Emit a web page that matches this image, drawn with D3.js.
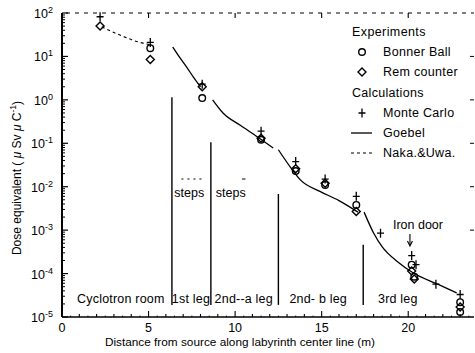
<!DOCTYPE html>
<html><head><meta charset="utf-8">
<script src="https://cdn.jsdelivr.net/npm/d3@7"></script>
<style>
body{margin:0;background:#fff;}
text{font-family:"Liberation Sans",Arial,Helvetica,sans-serif;fill:#000;}
</style></head>
<body><svg id="c" width="475" height="353"></svg>
<script>
// ---- data ----
const bonnerX = [5.1, 8.1, 11.5, 13.5, 15.2, 17.0, 20.2, 20.35, 23.0, 23.0];
const bonnerY = [15.5, 1.1, 0.12, 0.023, 0.011, 0.0038, 1.6e-4, 8.5e-5, 2.2e-5, 1.3e-5];
const remX = [2.2, 5.1, 8.1, 11.5, 13.5, 15.2, 17.0, 20.2, 20.35, 23.0];
const remY = [50, 8.5, 2.0, 0.13, 0.026, 0.012, 0.0027, 1.15e-4, 7.5e-5, 1.7e-5];
const mcX = [2.2, 5.1, 8.1, 11.5, 13.5, 15.2, 17.0, 18.4, 20.2, 20.45, 21.6, 23.0];
const mcY = [82, 21, 2.3, 0.19, 0.038, 0.015, 0.006, 8.5e-4, 2.6e-4, 1.6e-4, 5.7e-5, 3.3e-5];
const goebel1X = [6.4, 6.8, 7.2, 7.6, 8.0];
const goebel1Y = [16.5, 9.5, 5.7, 3.3, 2.0];
const goebel2X = [8.7, 9.3, 10.3, 11.3, 12.2];
const goebel2Y = [1.0, 0.5, 0.26, 0.14, 0.078];
const goebel3X = [12.5, 13.2, 13.8, 14.9, 16.0, 17.1];
const goebel3Y = [0.071, 0.028, 0.014, 0.0078, 0.0048, 0.0026];
const goebel4X = [17.45, 18.0, 18.5, 19.4, 20.3, 21.7, 22.8];
const goebel4Y = [0.0026, 8.6e-4, 4.1e-4, 1.85e-4, 1.03e-4, 5.7e-5, 3.6e-5];
const nakaX = [2.3, 3.35, 4.5, 5.1];
const nakaY = [48, 31, 21, 18.5];
const boundX = [6.35, 8.6, 12.5, 17.4];
const boundTop = [1.15, 0.105, 0.0068, 4.6e-4];
const boundBottom = 1.9e-5;
const regionLabels = ["Cyclotron room", "1st leg", "2nd--a leg", "2nd- b leg", "3rd leg"];
const regionX = [3.4, 7.45, 10.5, 14.8, 19.4];
const xTicks = [0, 5, 10, 15, 20];
const yExps = [2, 1, 0, -1, -2, -3, -4, -5];
const supLabels = ["2", "1", "0", "-1", "-2", "-3", "-4", "-5"];
const stepsX = [7.35, 9.75];
const ironDoorX = 20.1;

// ---- layout ----
const L = 62, R = 474, T = 13, B = 317;
const svg = d3.select("#c");
const x = d3.scaleLinear().domain([0, 23.8]).range([L, R]);
const y = d3.scaleLog().domain([1e-5, 1e2]).range([B, T]);

const g = svg.append("g");

// top frame (broken/dashed look of the scan)
g.append("line").attr("x1", L + 4).attr("x2", R).attr("y1", T).attr("y2", T)
  .attr("stroke", "#000").attr("stroke-width", 1.1).attr("stroke-dasharray", "4,5");

// y axis
g.append("line").attr("x1", L).attr("x2", L).attr("y1", T).attr("y2", B)
  .attr("stroke", "#000").attr("stroke-width", 2);
const minorY = [];
for (let e = -5; e < 2; e++) for (let m = 2; m <= 9; m++) minorY.push(m * Math.pow(10, e));
g.selectAll(".ym").data(minorY).enter().append("line")
  .attr("x1", L).attr("x2", L + 3).attr("y1", d => y(d)).attr("y2", d => y(d))
  .attr("stroke", "#000").attr("stroke-width", 1);
g.selectAll(".yM").data(yExps).enter().append("line")
  .attr("x1", L).attr("x2", L + 6).attr("y1", d => y(Math.pow(10, d))).attr("y2", d => y(Math.pow(10, d)))
  .attr("stroke", "#000").attr("stroke-width", 1.2);
// right side small ticks
g.selectAll(".yR").data(yExps.slice(1, 6)).enter().append("line")
  .attr("x1", R - 4).attr("x2", R).attr("y1", d => y(Math.pow(10, d))).attr("y2", d => y(Math.pow(10, d)))
  .attr("stroke", "#000").attr("stroke-width", 1);
// y tick labels
const yl = g.selectAll(".yl").data(yExps).enter().append("text")
  .attr("y", d => y(Math.pow(10, d)) + 5)
  .attr("x", (d, i) => supLabels[i].length > 1 ? 31 : 34)
  .style("font-size", "12.5px");
yl.append("tspan").text("10");
yl.append("tspan").attr("dy", -5).style("font-size", "9px").text((d, i) => supLabels[i]);

// x axis
g.append("line").attr("x1", L).attr("x2", R).attr("y1", B).attr("y2", B)
  .attr("stroke", "#000").attr("stroke-width", 1.5);
const minorX = d3.range(0, 24, 1);
g.selectAll(".xm").data(minorX).enter().append("line")
  .attr("x1", d => x(d)).attr("x2", d => x(d)).attr("y1", B).attr("y2", d => B - (d % 5 === 0 ? 6 : 3))
  .attr("stroke", "#000").attr("stroke-width", 1.1);
const halfX = d3.range(0.5, 23.6, 1);
g.selectAll(".xh").data(halfX).enter().append("line")
  .attr("x1", d => x(d)).attr("x2", d => x(d)).attr("y1", B).attr("y2", B - 1.5)
  .attr("stroke", "#000").attr("stroke-width", 0.8);
g.selectAll(".xtop").data(xTicks.slice(1)).enter().append("line")
  .attr("x1", d => x(d)).attr("x2", d => x(d)).attr("y1", T).attr("y2", T + 5)
  .attr("stroke", "#000").attr("stroke-width", 1.1);
g.selectAll(".xl").data(xTicks).enter().append("text")
  .attr("x", d => x(d)).attr("y", 332).attr("text-anchor", "middle")
  .style("font-size", "12.5px").text(d => d);

// axis titles
g.append("text").attr("x", 240).attr("y", 346).attr("text-anchor", "middle")
  .style("font-size", "11.8px").text("Distance from source along labyrinth center line (m)");
const yt = g.append("text").attr("transform", "translate(21,178) rotate(-90)")
  .attr("text-anchor", "middle").style("font-size", "12px");
yt.append("tspan").text("Dose equivalent ( ");
yt.append("tspan").style("font-style", "italic").text("μ");
yt.append("tspan").text(" Sv ");
yt.append("tspan").style("font-style", "italic").text("μ");
yt.append("tspan").text(" C");
yt.append("tspan").attr("dy", -5).style("font-size", "8.5px").text("-1");
yt.append("tspan").attr("dy", 5).text(")");

// boundaries
g.selectAll(".bd").data(boundX).enter().append("line")
  .attr("x1", d => x(d)).attr("x2", d => x(d))
  .attr("y1", (d, i) => y(boundTop[i])).attr("y2", y(boundBottom))
  .attr("stroke", "#000").attr("stroke-width", 1.4);

// region labels
g.selectAll(".rl").data(regionLabels).enter().append("text")
  .attr("x", (d, i) => x(regionX[i])).attr("y", 303).attr("text-anchor", "middle")
  .style("font-size", "12.5px").style("letter-spacing", "0.2px").text(d => d);

// steps
g.selectAll(".st").data(stepsX).enter().append("text")
  .attr("x", d => x(d)).attr("y", 197).attr("text-anchor", "middle")
  .style("font-size", "12.5px").text("steps");
g.append("line").attr("x1", x(6.9)).attr("x2", x(8.2)).attr("y1", 179).attr("y2", 179)
  .attr("stroke", "#000").attr("stroke-width", 1).attr("stroke-dasharray", "2,4");
g.append("line").attr("x1", x(10.4)).attr("x2", x(10.6)).attr("y1", 179).attr("y2", 179)
  .attr("stroke", "#000").attr("stroke-width", 1);

// iron door
g.append("text").attr("x", x(ironDoorX) + 8).attr("y", 229).attr("text-anchor", "middle")
  .style("font-size", "12.5px").text("Iron door");
g.append("line").attr("x1", x(ironDoorX)).attr("x2", x(ironDoorX)).attr("y1", 234).attr("y2", 245)
  .attr("stroke", "#000").attr("stroke-width", 1.1);
g.append("path").attr("d", `M${x(ironDoorX) - 2.5},${241} L${x(ironDoorX)},${246} L${x(ironDoorX) + 2.5},${241}`)
  .attr("fill", "none").attr("stroke", "#000").attr("stroke-width", 1.1);

// curves
const line = d3.line().x(d => x(d[0])).y(d => y(d[1])).curve(d3.curveMonotoneX);
[[goebel1X, goebel1Y], [goebel2X, goebel2Y], [goebel3X, goebel3Y], [goebel4X, goebel4Y]].forEach(([xs, ys]) => {
  g.append("path").datum(xs.map((v, i) => [v, ys[i]])).attr("d", line)
    .attr("fill", "none").attr("stroke", "#000").attr("stroke-width", 1.3);
});
g.append("path").datum(nakaX.map((v, i) => [v, nakaY[i]])).attr("d", line)
  .attr("fill", "none").attr("stroke", "#000").attr("stroke-width", 1.1).attr("stroke-dasharray", "3,3");

// markers
function circleM(sel, cx, cy) {
  sel.append("circle").attr("cx", cx).attr("cy", cy).attr("r", 3.3)
    .attr("fill", "none").attr("stroke", "#000").attr("stroke-width", 1.4);
}
function diamondM(sel, cx, cy) {
  const s = 4;
  sel.append("path").attr("d", `M${cx},${cy - s}L${cx + s},${cy}L${cx},${cy + s}L${cx - s},${cy}Z`)
    .attr("fill", "none").attr("stroke", "#000").attr("stroke-width", 1.4);
}
function plusM(sel, cx, cy) {
  const s = 4.5;
  sel.append("path").attr("d", `M${cx - s + 1},${cy}H${cx + s - 1}M${cx},${cy - s}V${cy + s}`)
    .attr("fill", "none").attr("stroke", "#000").attr("stroke-width", 1.3);
}
bonnerX.forEach((v, i) => circleM(g, x(v), y(bonnerY[i])));
remX.forEach((v, i) => diamondM(g, x(v), y(remY[i])));
mcX.forEach((v, i) => plusM(g, x(v), y(mcY[i])));

// legend
const lg = g.append("g");
const legFont = "12.5px";
lg.append("text").attr("x", 352).attr("y", 36).style("font-size", legFont).style("letter-spacing", "0.4px").text("Experiments");
circleM(lg, 362, 52);
lg.append("text").attr("x", 383).attr("y", 56).style("font-size", legFont).style("letter-spacing", "0.3px").text("Bonner Ball");
diamondM(lg, 362, 72);
lg.append("text").attr("x", 383).attr("y", 76).style("font-size", legFont).style("letter-spacing", "0.3px").text("Rem counter");
lg.append("text").attr("x", 352).attr("y", 97).style("font-size", legFont).style("letter-spacing", "0.3px").text("Calculations");
plusM(lg, 362, 113);
lg.append("text").attr("x", 383).attr("y", 117).style("font-size", legFont).style("letter-spacing", "0.3px").text("Monte Carlo");
lg.append("line").attr("x1", 351).attr("x2", 372).attr("y1", 133).attr("y2", 133).attr("stroke", "#000").attr("stroke-width", 1.3);
lg.append("text").attr("x", 383).attr("y", 137).style("font-size", legFont).style("letter-spacing", "0.3px").text("Goebel");
lg.append("line").attr("x1", 351).attr("x2", 372).attr("y1", 153).attr("y2", 153).attr("stroke", "#000").attr("stroke-width", 1.1).attr("stroke-dasharray", "3,3");
lg.append("text").attr("x", 383).attr("y", 157).style("font-size", legFont).style("letter-spacing", "0.3px").text("Naka.&Uwa.");
</script></body></html>
